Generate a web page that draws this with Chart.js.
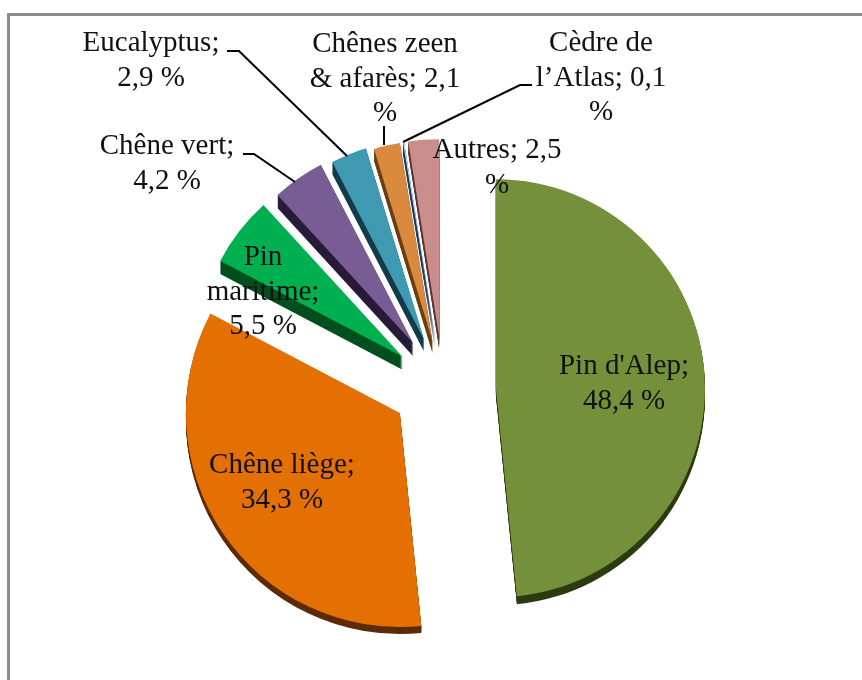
<!DOCTYPE html>
<html>
<head>
<meta charset="utf-8">
<style>html,body{margin:0;padding:0;background:#fff}canvas{display:block}</style>
<script src="https://cdn.jsdelivr.net/npm/chart.js@4"></script>
</head>
<body>
<canvas id="c" width="862" height="680"></canvas>
<script>
const categories = ["Pin d'Alep", "Chêne liège", "Pin maritime", "Chêne vert", "Eucalyptus", "Chênes zeen & afarès", "Cèdre de l’Atlas", "Autres"];
const values = [48.4, 34.3, 5.5, 4.2, 2.9, 2.1, 0.1, 2.5];
const labelLines = [
  ["Pin d'Alep;", "48,4 %"],
  ["Chêne liège;", "34,3 %"],
  ["Pin", "maritime;", "5,5 %"],
  ["Chêne vert;", "4,2 %"],
  ["Eucalyptus;", "2,9 %"],
  ["Chênes zeen", "& afarès; 2,1", "%"],
  ["Cèdre de", "l’Atlas; 0,1", "%"],
  ["Autres; 2,5", "%"]
];
// styling
const colors = ["#75903a", "#e47003", "#00b050", "#775d93", "#3f9ab1", "#d98a3e", "#c6d9f1", "#c98e8c"];
const sideColors = ["#2c3a10", "#5c2a06", "#004f1c", "#2a1a3a", "#123c49", "#6b3e10", "#1f3a66", "#5b3533"];
const explode = [53, 52, 51, 52, 50, 46, 48, 50];
const nudgeY = [5, -2, 2, 0, 0, 0, 0, 0];
const radii = [209, 214, 206, 201, 200, 201, 200, 197];
const depth = [8, 7, 13, 13, 12, 12, 12, 12];
const labelAnchors = [[624, 374], [282, 473], [263, 265], [167, 154], [151, 51], [385, 52], [601, 51], [497, 158]];
const lineGap = 34.5;
const leaders = [
  [[227, 51], [239, 51], [347, 156]],
  [[243, 154], [254, 154], [295, 182]],
  [[384, 126], [384, 145]],
  [[532, 85], [520, 85], [403, 142]]
];

const piePlugin = {
  id: 'pie3d',
  afterDatasetsUpdate(chart) {
    chart.getDatasetMeta(0).data.forEach((arc, i) => {
      const mid = (arc.startAngle + arc.endAngle) / 2;
      arc.x += Math.cos(mid) * explode[i];
      arc.y += Math.sin(mid) * explode[i] + nudgeY[i];
      arc.outerRadius = radii[i];
    });
  },
  beforeDatasetsDraw(chart) {
    const ctx = chart.ctx;
    ctx.save();
    ctx.strokeStyle = '#8c8c8c';
    ctx.lineWidth = 3;
    ctx.beginPath();
    ctx.moveTo(8.5, 680);
    ctx.lineTo(8.5, 14.5);
    ctx.lineTo(862, 14.5);
    ctx.stroke();
    ctx.restore();
    chart.getDatasetMeta(0).data.forEach((arc, i) => {
      const base = arc.options;
      arc.options = Object.assign({}, base, {backgroundColor: sideColors[i]});
      for (let h = 1; h <= depth[i]; h++) {
        ctx.save();
        ctx.translate(0, h);
        arc.draw(ctx);
        ctx.restore();
      }
      arc.options = base;
    });
  },
  afterDatasetsDraw(chart) {
    const ctx = chart.ctx;
    ctx.save();
    ctx.strokeStyle = '#000';
    ctx.lineWidth = 2;
    leaders.forEach(pts => {
      ctx.beginPath();
      pts.forEach((p, k) => k ? ctx.lineTo(p[0], p[1]) : ctx.moveTo(p[0], p[1]));
      ctx.stroke();
    });
    ctx.fillStyle = '#111';
    ctx.font = '29px "Liberation Serif"';
    ctx.textAlign = 'center';
    ctx.textBaseline = 'alphabetic';
    labelLines.forEach((lines, i) => {
      lines.forEach((t, k) => ctx.fillText(t, labelAnchors[i][0], labelAnchors[i][1] + k * lineGap));
    });
    ctx.restore();
  }
};

new Chart(document.getElementById('c'), {
  type: 'pie',
  data: {
    labels: categories,
    datasets: [{
      data: values,
      backgroundColor: colors,
      borderWidth: 0
    }]
  },
  options: {
    responsive: false,
    animation: false,
    radius: 205,
    layout: {padding: {left: 24, right: 0, top: 92, bottom: 0}},
    plugins: {legend: {display: false}, tooltip: {enabled: false}, title: {display: false}}
  },
  plugins: [piePlugin]
});
</script>
</body>
</html>
